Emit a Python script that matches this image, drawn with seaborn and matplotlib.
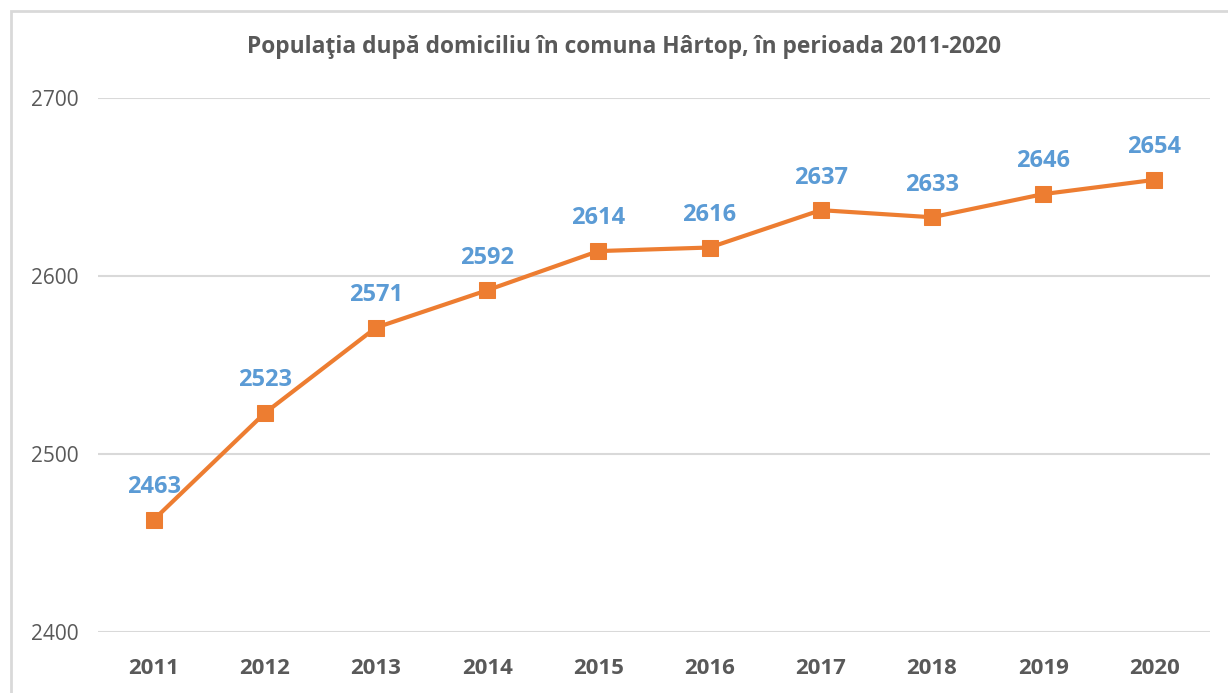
import matplotlib
matplotlib.use("Agg")
import matplotlib.pyplot as plt
import seaborn as sns
import pandas as pd
from matplotlib.patches import Rectangle

years = ["2011", "2012", "2013", "2014", "2015", "2016", "2017", "2018", "2019", "2020"]
population = [2463, 2523, 2571, 2592, 2614, 2616, 2637, 2633, 2646, 2654]
title = "Populaţia după domiciliu în comuna Hârtop, în perioada 2011-2020"

sns.set_theme(style="white")
plt.rcParams["font.family"] = ["Open Sans", "DejaVu Sans"]

LINE = "#ED7D31"
LABEL = "#5B9BD5"
TEXT = "#595959"
GRID = "#D9D9D9"

df = pd.DataFrame({"year": years, "pop": population})
df["x"] = range(len(years))

fig = plt.figure(figsize=(12.28, 6.93), dpi=100)
ax = fig.add_axes([98/1228, 1-632/693, (1210-98)/1228, (632-98)/693])

sns.lineplot(data=df, x="x", y="pop", ax=ax, color=LINE, linewidth=3,
             marker="s", markersize=11, markeredgecolor=LINE, markerfacecolor=LINE)

for xi, v in zip(df["x"], population):
    ax.annotate(str(v), (xi, v), xytext=(0, 23.5), textcoords="offset points",
                ha="center", va="center", fontsize=17, fontweight="bold", color=LABEL)

ax.set_xlim(-0.5, len(years) - 0.5)
ax.set_ylim(2400, 2700)
ax.set_yticks([2400, 2500, 2600, 2700])
ax.set_xticks(range(len(years)))
ax.set_xticklabels(years, fontsize=16, fontweight="bold", color=TEXT)
ax.tick_params(axis="y", labelsize=15, labelcolor=TEXT, length=0, pad=14)
ax.tick_params(axis="x", length=0, pad=19)
ax.yaxis.grid(True, color=GRID, linewidth=1.5)
ax.set_axisbelow(True)
for s in ax.spines.values():
    s.set_visible(False)
ax.set_xlabel("")
ax.set_ylabel("")

fig.text(624/1228, 1-47/693, title, ha="center", va="center", fontsize=16.4,
         fontweight="bold", color=TEXT)

fig.patches.append(Rectangle((11/1228, -0.1), 1.2, (693-11)/693 + 0.1,
                             transform=fig.transFigure, fill=False,
                             edgecolor=GRID, linewidth=2, clip_on=False))

fig.savefig("out.png", dpi=100)
